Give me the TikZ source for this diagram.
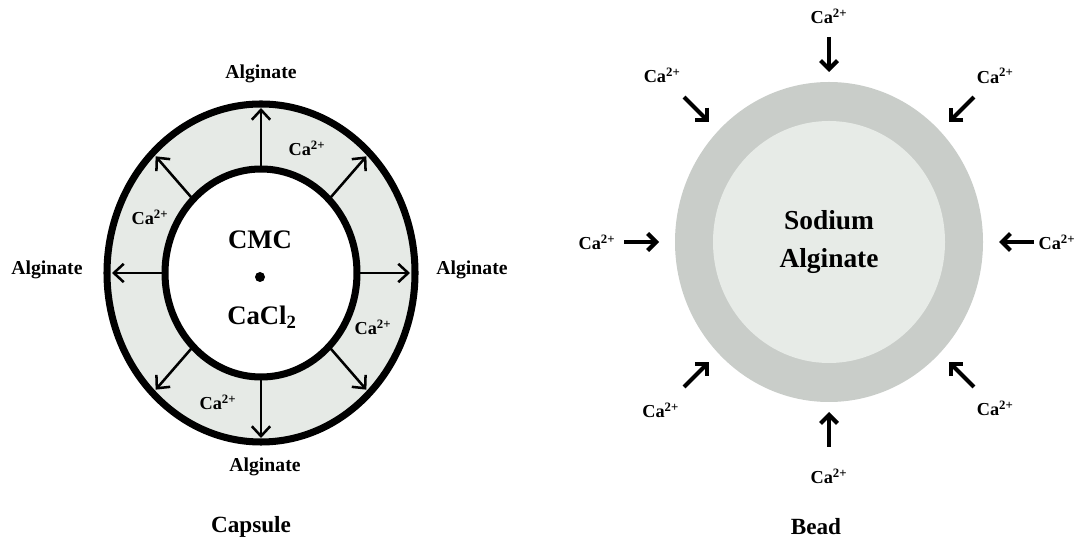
\documentclass[tikz,border=0pt]{standalone}
\usepackage{fontspec}
\setmainfont{Liberation Serif}
\usetikzlibrary{calc, arrows.meta}

\definecolor{ringgray}{HTML}{E6EAE6}
\definecolor{shellgray}{HTML}{C9CDC9}
\definecolor{coregray}{HTML}{E7EBE7}

\begin{document}
\begin{tikzpicture}[
    x=0.025cm, y=0.025cm,
    wall/.style={line width=5pt},
    lbl/.style={font=\fontsize{14}{16}\selectfont\bfseries, inner sep=1pt},
    ion/.style={font=\fontsize{13}{15}\selectfont\bfseries, inner sep=0pt},
    core/.style={font=\fontsize{19}{22}\selectfont\bfseries, inner sep=1pt},
    title/.style={font=\fontsize{16.5}{19}\selectfont\bfseries},
    outarrow/.style={-{Straight Barb[length=7pt, width=13pt]}, line width=1.8pt},
    inarrow/.style={-{Straight Barb[length=6pt, width=12pt]}, line width=3pt}
]
    \useasboundingbox (0,0) rectangle (1078,545);

    % Capsule
    \coordinate (caps) at (261,272);
    \fill[ringgray] (caps) ellipse [x radius=154, y radius=169];
    \fill[white] (caps) ellipse [x radius=96, y radius=104];
    \draw[wall] (caps) ellipse [x radius=154, y radius=169];
    \draw[wall] (caps) ellipse [x radius=96, y radius=104];

    % Outward arrows
    \foreach \a in {0,45,...,315} {
        \coordinate (in\a) at ($(caps)+(\a:96 and 104)$);
        \coordinate (out\a) at ($(caps)+(\a:149 and 165)$);
        \draw[outarrow] (in\a) -- (out\a);
    }

    \node[core] (cmc) at (260,305) {CMC};
    \fill (260,268) circle [radius=5] coordinate (dot);
    \node[core] (cacl) at (262,228) {CaCl\textsubscript{2}};

    \node[lbl] (algtop) at (261,471) {Alginate};
    \node[lbl] (algleft) at (47,275) {Alginate};
    \node[lbl] (algright) at (472,275) {Alginate};
    \node[lbl] (algbot) at (265,78) {Alginate};

    \node[ion] (caA) at (307,397) {Ca\textsuperscript{2+}};
    \node[ion] (caB) at (150,328) {Ca\textsuperscript{2+}};
    \node[ion] (caC) at (373,218) {Ca\textsuperscript{2+}};
    \node[ion] (caD) at (218,143) {Ca\textsuperscript{2+}};

    % Bead
    \coordinate (bead) at (829,303);
    \fill[shellgray] (bead) ellipse [x radius=154, y radius=160];
    \fill[coregray] (bead) ellipse [x radius=116, y radius=121];
    \node[core, font=\fontsize{19.5}{27}\selectfont\bfseries, align=center] (sodium) at (bead) {Sodium\\Alginate};

    % Inward arrows
    \foreach \a/\r in {0/228, 45/235, 90/226, 135/236, 180/232, 225/238, 270/234, 315/235} {
        \node[ion] (ion\a) at ($(bead)+(\a:\r)$) {Ca\textsuperscript{2+}};
        \coordinate (from\a) at ($(bead)+(\a:205)$);
        \coordinate (to\a) at ($(bead)+(\a:170)$);
        \draw[inarrow] (from\a) -- (to\a);
    }

    \node[title] (capsule) at (251,18) {Capsule};
    \node[title] (beadlbl) at (816,18) {Bead};
\end{tikzpicture}
\end{document}
